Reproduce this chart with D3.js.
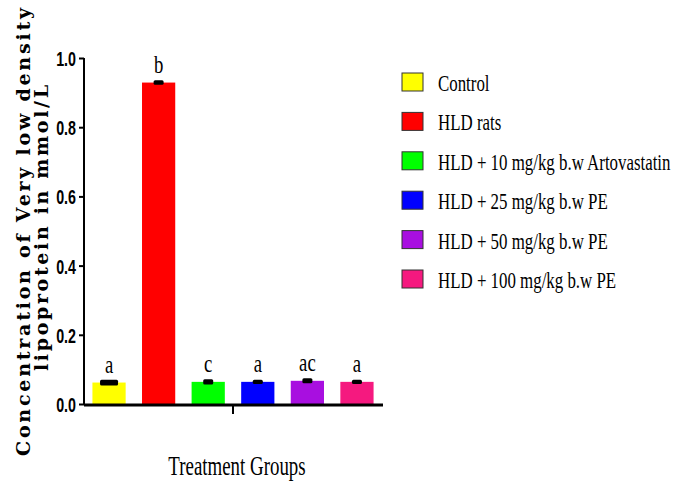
<!DOCTYPE html>
<html>
<head>
	<meta charset="utf-8">
	<title>VLDL chart</title>
	<script src="https://cdn.jsdelivr.net/npm/d3@7"></script>
	<style>
		body { margin: 0; background: #fff; }
		svg { display: block; }
	</style>
</head>
<body>
	<svg id="chart" width="695" height="485"></svg>

	<script type="text/javascript">
		// data
		var groups = ['Control', 'HLD rats', 'HLD + 10 mg/kg b.w Artovastatin',
			'HLD + 25 mg/kg b.w PE', 'HLD + 50 mg/kg b.w PE', 'HLD + 100 mg/kg b.w PE'];
		var values = [0.062, 0.929, 0.064, 0.064, 0.067, 0.064];
		var errors = [0.004, 0.002, 0.003, 0.002, 0.003, 0.002];
		var letters = ['a', 'b', 'c', 'a', 'ac', 'a'];
		var colors = ['#ffff00', '#ff0000', '#00ff00', '#0000ff', '#a80fe0', '#f5197f'];
		var yTicks = [0.0, 0.2, 0.4, 0.6, 0.8, 1.0];

		var svg = d3.select('#chart');

		var x = d3.scaleBand()
			.domain(groups)
			.range([84, 382])
			.paddingInner(0.33)
			.paddingOuter(0.17);

		var y = d3.scaleLinear()
			.domain([0, 1])
			.range([404, 58]);

		// bars
		svg.append('g')
			.selectAll('rect')
			.data(groups)
			.enter()
			.append('rect')
			.attr('x', d => x(d))
			.attr('y', (d, i) => y(values[i]))
			.attr('width', x.bandwidth())
			.attr('height', (d, i) => y(0) - y(values[i]))
			.attr('fill', (d, i) => colors[i]);

		// error bars (drawn thick like the original)
		svg.append('g')
			.selectAll('rect')
			.data(groups)
			.enter()
			.append('rect')
			.attr('x', (d, i) => x(d) + x.bandwidth() / 2 - (i === 0 ? 9 : 5))
			.attr('y', (d, i) => y(values[i] + errors[i]) - 1.5)
			.attr('width', (d, i) => i === 0 ? 18 : 10)
			.attr('height', (d, i) => y(values[i] - errors[i]) - y(values[i] + errors[i]) + 3)
			.attr('rx', 1.5)
			.attr('fill', '#000');

		// significance letters
		svg.append('g')
			.selectAll('text')
			.data(groups)
			.enter()
			.append('text')
			.attr('transform', (d, i) => 'translate(' + (x(d) + x.bandwidth() / 2) + ',' + (y(values[i]) - 10) + ') scale(0.72,1)')
			.attr('text-anchor', 'middle')
			.style('font-family', '"Liberation Serif", "Times New Roman", serif')
			.style('font-size', '26px')
			.text((d, i) => letters[i]);

		// y axis
		var yAxis = svg.append('g')
			.attr('transform', 'translate(84,0)')
			.call(d3.axisLeft(y).tickValues(yTicks).tickFormat(d3.format('.1f')).tickSize(5).tickPadding(3));
		yAxis.select('.domain').attr('stroke-width', 2).attr('d', 'M0,58V404');
		yAxis.selectAll('.tick line').attr('stroke-width', 2);
		yAxis.selectAll('.tick text')
			.attr('font-family', '"Liberation Sans", Arial, sans-serif')
			.attr('font-weight', 'bold')
			.attr('font-size', 21)
			.attr('fill', '#000')
			.attr('dy', '0.36em')
			.attr('transform', 'translate(-8,0) scale(0.68,1)')
			.attr('x', 0);

		// x axis: one tick in the middle
		svg.append('line')
			.attr('x1', 84).attr('x2', 383)
			.attr('y1', 405).attr('y2', 405)
			.attr('stroke', '#000').attr('stroke-width', 3);
		svg.append('line')
			.attr('x1', (84 + 382) / 2).attr('x2', (84 + 382) / 2)
			.attr('y1', 405).attr('y2', 414)
			.attr('stroke', '#000').attr('stroke-width', 2);

		// axis titles
		svg.append('text')
			.attr('transform', 'translate(237,475) scale(0.7,1)')
			.attr('text-anchor', 'middle')
			.style('font-family', '"Liberation Serif", "Times New Roman", serif')
			.style('font-size', '27px')
			.text('Treatment Groups');

		var yTitle = svg.append('g')
			.attr('transform', 'translate(0,232) rotate(-90)')
			.style('font-family', '"DejaVu Serif", serif')
			.style('font-weight', 'bold')
			.style('font-size', '19px')
			.attr('text-anchor', 'middle');
		yTitle.append('text')
			.attr('x', 0).attr('y', 30)
			.attr('textLength', 448)
			.attr('lengthAdjust', 'spacing')
			.text('Concentration of Very low density');
		yTitle.append('text')
			.attr('x', 4).attr('y', 48)
			.attr('textLength', 286)
			.attr('lengthAdjust', 'spacing')
			.text('lipoprotein in mmol/L');

		// legend
		var legend = svg.append('g')
			.selectAll('g')
			.data(groups)
			.enter()
			.append('g')
			.attr('transform', (d, i) => 'translate(402,' + (73 + i * 39.4) + ')');
		legend.append('rect')
			.attr('width', 21)
			.attr('height', 18)
			.attr('fill', (d, i) => colors[i])
			.attr('stroke', '#333')
			.attr('stroke-width', 1);
		legend.append('text')
			.attr('transform', 'translate(36,18) scale(0.75,1)')
			.style('font-family', '"Liberation Serif", "Times New Roman", serif')
			.style('font-size', '22.5px')
			.text(d => d);
	</script>
</body>
</html>
